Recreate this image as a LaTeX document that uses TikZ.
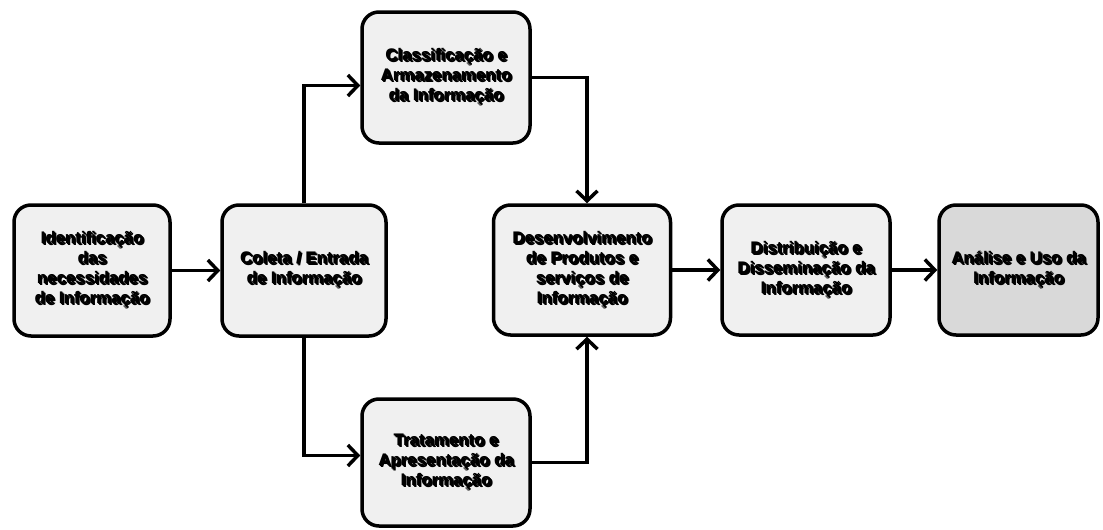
\documentclass[tikz,border=0pt]{standalone}
\usepackage{fontspec}
\setmainfont{Liberation Sans}
\usetikzlibrary{arrows.meta,calc}

\definecolor{boxfill}{HTML}{F0F0F0}
\definecolor{endfill}{HTML}{D9D9D9}

% multi-line centred text with a soft grey drop shadow
\newsavebox\txtbox
\newcommand\shadowed[1]{%
  \sbox\txtbox{\begin{tabular}{@{}c@{}}#1\end{tabular}}%
  \rlap{\kern2pt\raisebox{-2pt}{\color{black!18}\usebox\txtbox}}%
  \rlap{\kern1pt\raisebox{-1pt}{\color{black!38}\usebox\txtbox}}%
  \usebox\txtbox}

\tikzset{
  stage/.style={draw=black, line width=3.5pt, rounded corners=17pt,
    fill=boxfill, inner sep=0pt, align=center,
    font=\fontsize{16.8}{20}\selectfont\bfseries},
  flow/.style={line width=3.5pt, line join=miter,
    -{Straight Barb[length=10pt,width=21pt,line width=3.5pt]}}
}

\begin{document}
\begin{tikzpicture}[x=1pt,y=-1pt]
\useasboundingbox (0,0) rectangle (1103,530);

% process stages
\node[stage, minimum width=156pt, minimum height=131pt] (ident) at (92,270.5)
  {\shadowed{Identificação\\das\\necessidades\\de Informação}};
\node[stage, minimum width=164pt, minimum height=131pt] (coleta) at (304,270.5)
  {\shadowed{Coleta / Entrada\\de Informação}};
\node[stage, minimum width=168pt, minimum height=131pt] (classif) at (446,77.5)
  {\shadowed{Classificação e\\Armazenamento\\da Informação}};
\node[stage, minimum width=168pt, minimum height=127pt] (trat) at (446,462.5)
  {\shadowed{Tratamento e\\Apresentação da\\Informação}};
\node[stage, minimum width=177pt, minimum height=130pt] (desenv) at (582,270)
  {\shadowed{Desenvolvimento\\de Produtos e\\serviços de\\Informação}};
\node[stage, minimum width=168pt, minimum height=130pt] (distrib) at (806,270)
  {\shadowed{Distribuição e\\Disseminação da\\Informação}};
\node[stage, fill=endfill, minimum width=159pt, minimum height=130pt] (analise) at (1018.5,270)
  {\shadowed{Análise e Uso da\\Informação}};

% connectors
\draw[flow] (ident) -- (coleta);
\draw[flow] (coleta.north) |- ([yshift=-8pt]classif.west);
\draw[flow] (coleta.south) |- ([yshift=7pt]trat.west);
\draw[flow] (classif.east) -| ([xshift=5pt]desenv.north);
\draw[flow] (trat.east) -| ([xshift=5pt]desenv.south);
\draw[flow] (desenv) -- (distrib);
\draw[flow] (distrib) -- (analise);
\end{tikzpicture}
\end{document}
